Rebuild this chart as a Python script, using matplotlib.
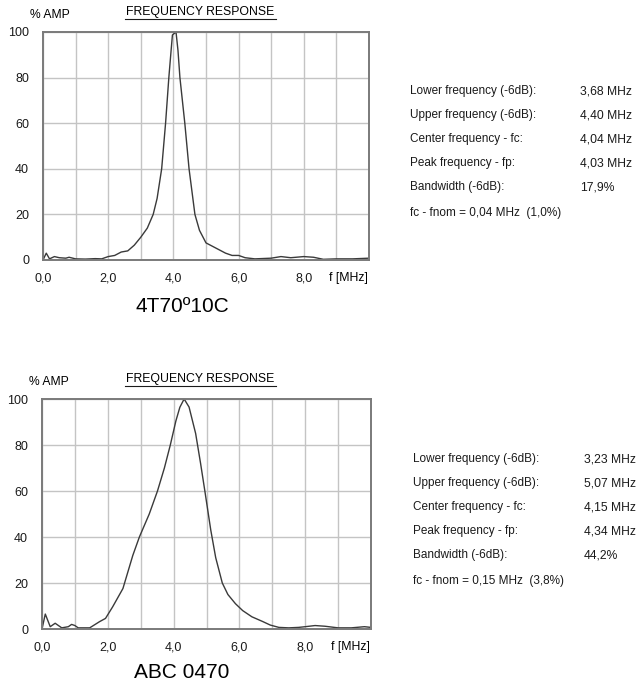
import numpy as np
import matplotlib
matplotlib.use("Agg")
import matplotlib.pyplot as plt
from matplotlib.lines import Line2D

plt.rcParams['font.family'] = ['Liberation Sans', 'DejaVu Sans']

# Data: probe 4T70º10C
f_top = [0, 0.1, 0.2, 0.35, 0.5, 0.7, 0.8, 1.0, 1.3, 1.6, 1.8, 2.0, 2.2, 2.4, 2.6, 2.8,
         3.0, 3.2, 3.38, 3.5, 3.64, 3.76, 3.86, 3.93, 3.97, 4.08, 4.14, 4.2, 4.35, 4.48,
         4.66, 4.8, 5.0, 5.2, 5.4, 5.6, 5.8, 6.0, 6.2, 6.5, 7.0, 7.3, 7.6, 8.0, 8.3, 8.6,
         9.0, 9.5, 10.0]
amp_top = [0, 3, 0.5, 1.5, 1, 0.8, 1.2, 0.5, 0.4, 0.6, 0.5, 1.5, 2, 3.5, 4, 6.5,
           10, 14, 20, 27, 40, 60, 80, 92, 98.7, 100, 92, 80, 60, 40,
           20, 13, 7.5, 6, 4.5, 3, 2, 2, 1, 0.5, 0.8, 1.5, 1, 1.5, 1.2, 0.3,
           0.5, 0.5, 0.8]

# Data: probe ABC 0470
f_bot = [0, 0.1, 0.25, 0.4, 0.6, 0.8, 0.9, 1.0, 1.1, 1.45, 1.75, 1.93, 2.15, 2.46,
         2.76, 2.96, 3.26, 3.51, 3.72, 3.9, 4.07, 4.19, 4.32, 4.47, 4.67, 4.82, 4.95,
         5.13, 5.28, 5.48, 5.65, 5.88, 6.1, 6.38, 6.7, 6.94, 7.2, 7.5, 7.8, 8.0, 8.3,
         8.6, 9.0, 9.4, 9.8, 10.0]
amp_bot = [0, 6.5, 1, 2.5, 0.5, 1, 2, 1.5, 0.5, 0.5, 3.2, 4.6, 9.7, 17.6,
           32, 40, 50, 60, 70, 80, 90.5, 96.4, 100, 96.5, 85, 72, 60,
           43, 31, 20, 15, 11, 8, 5.3, 3.3, 1.7, 0.7, 0.5, 0.7, 1, 1.5,
           1.2, 0.5, 0.5, 1, 0.7]

labels = ["Lower frequency (-6dB):", "Upper frequency (-6dB):", "Center frequency - fc:",
          "Peak frequency - fp:", "Bandwidth (-6dB):"]
values_top = ["3,68 MHz", "4,40 MHz", "4,04 MHz", "4,03 MHz", "17,9%"]
values_bot = ["3,23 MHz", "5,07 MHz", "4,15 MHz", "4,34 MHz", "44,2%"]
note_top = "fc - fnom = 0,04 MHz  (1,0%)"
note_bot = "fc - fnom = 0,15 MHz  (3,8%)"

W, H = 637, 684
fig = plt.figure(figsize=(W / 100, H / 100), dpi=100)


def px(x, y):
    return x / W, 1 - y / H


def panel(rect, f, amp, caption, cap_y):
    l, t, r, b = rect
    ax = fig.add_axes([l / W, 1 - b / H, (r - l) / W, (b - t) / H])
    ax.plot(f, amp, color='#3a3a3a', lw=1.0)
    ax.set_xlim(0, 10)
    ax.set_ylim(0, 100)
    ax.set_xticks(np.arange(0, 11, 1))
    ax.set_xticklabels(['%d,0' % v if v % 2 == 0 and v < 10 else '' for v in range(11)])
    ax.set_yticks([0, 20, 40, 60, 80, 100])
    ax.grid(True, color='#c4c4c4', lw=1.0)
    ax.set_axisbelow(True)
    ax.tick_params(axis='y', length=0, labelsize=9, colors='#1a1a1a', pad=10)
    ax.tick_params(axis='x', length=0, labelsize=9, colors='#1a1a1a', pad=9)
    for s in ax.spines.values():
        s.set_color('#7a7a7a')
        s.set_linewidth(1.4)
    # labels around the plot
    fig.text(*px(l - 13, t - 17), "% AMP", fontsize=8.7, ha='left', va='center')
    cx = 200
    fig.text(*px(cx, t - 20), "FREQUENCY RESPONSE", fontsize=8.8, ha='center', va='center')
    x0, y0 = px(cx - 75, t - 13.5)
    x1, _ = px(cx + 76, t - 13.5)
    fig.add_artist(Line2D([x0, x1], [y0, y0], color='#1a1a1a', lw=0.8))
    fig.text(*px(r - 1, b + 18), "f [MHz]", fontsize=8.8, ha='right', va='center')
    fig.text(*px(182, cap_y), caption, fontsize=15, ha='center', va='center')
    return ax


panel((43, 32, 369, 260), f_top, amp_top, "4T70º10C", 306)
panel((42, 399, 371, 629), f_bot, amp_bot, "ABC 0470", 672)

# parameter tables
for (lx, vx, ys, vals, note) in [(410, 580, 91, values_top, note_top),
                                  (413, 584, 459, values_bot, note_bot)]:
    for i, (lab, val) in enumerate(zip(labels, vals)):
        y = ys + 24 * i
        fig.text(*px(lx, y), lab, fontsize=8.5, ha='left', va='center', color='#1a1a1a')
        fig.text(*px(vx, y), val, fontsize=8.7, ha='left', va='center', color='#1a1a1a')
    fig.text(*px(lx, ys + 122), note, fontsize=8.5, ha='left', va='center', color='#1a1a1a')

fig.savefig("out.png", dpi=100)
